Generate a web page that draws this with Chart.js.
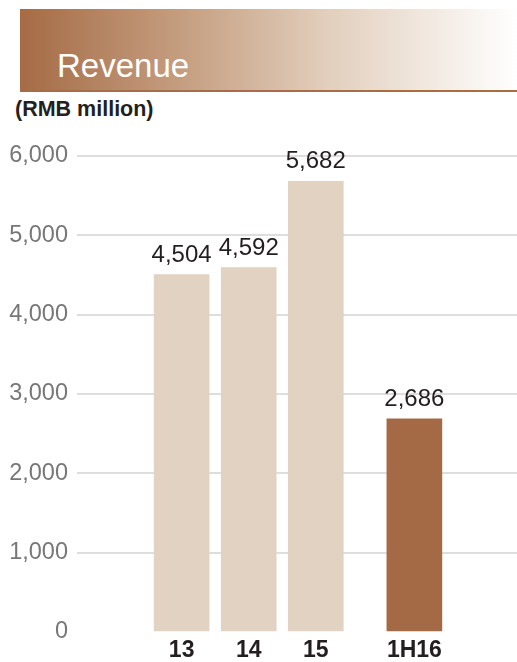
<!DOCTYPE html>
<html>
<head>
<meta charset="utf-8">
<script src="https://cdn.jsdelivr.net/npm/chart.js@4.4.0/dist/chart.umd.min.js"></script>
<style>
  body { margin: 0; background: #fff; font-family: "Liberation Sans", Arial, sans-serif; }
  #wrap { position: relative; width: 517px; height: 662px; overflow: hidden; }
  #head {
    position: absolute; left: 20px; top: 9px; width: 497px; height: 81px;
    background: linear-gradient(to right, #a56b45 0%, #c7a285 35%, #e2cfbd 62%, #ffffff 100%);
    border-bottom: 2px solid #a86c47;
  }
  #head span {
    position: absolute; left: 37px; top: 40px;
    color: #fff; font-size: 33px; line-height: 33px;
  }
  #unit {
    position: absolute; left: 15px; top: 97px;
    font-size: 21.5px; font-weight: bold; color: #231f20;
  }
  canvas { position: absolute; left: 0; top: 0; }
</style>
</head>
<body>
<div id="wrap">
  <div id="head"><span>Revenue</span></div>
  <div id="unit">(RMB million)</div>
  <canvas id="chartRevenue" width="517" height="662"></canvas>
</div>
<script>
var periodos = ["13", "14", "15", "1H16"];
var receita = [4504, 4592, 5682, 2686];
var eixoY = [0, 1000, 2000, 3000, 4000, 5000, 6000];

// o semestre fica afastado dos anos cheios
function posicao(i) {
    return i < 3 ? i : i + 0.47;
}

var corAno = '#e2d2c2';
var corSemestre = '#a36a45';

var rotulos = {
    id: 'rotulos',
    afterDatasetsDraw: function (chart) {
        var ctx = chart.ctx;
        var meta = chart.getDatasetMeta(0);
        ctx.save();
        ctx.font = '24px "Liberation Sans", Arial, sans-serif';
        ctx.fillStyle = '#231f20';
        ctx.textAlign = 'center';
        ctx.textBaseline = 'alphabetic';
        meta.data.forEach(function (barra, i) {
            ctx.fillText(receita[i].toLocaleString('en-US'), barra.x, barra.y - 13);
        });
        ctx.restore();
    }
};

var graficoReceita = document.getElementById('chartRevenue').getContext('2d');
var chart = new Chart(graficoReceita, {
    type: 'bar',
    data: {
        datasets: [
            {
                label: "Revenue",
                data: receita.map(function (v, i) { return { x: posicao(i), y: v }; }),
                backgroundColor: function (c) {
                    return c.dataIndex === periodos.length - 1 ? corSemestre : corAno;
                },
                barThickness: 55,
                borderWidth: 0
            }
        ]
    },
    options: {
        responsive: false,
        animation: false,
        layout: { padding: { top: 156, left: 0, right: 0, bottom: 0 } },
        plugins: {
            legend: { display: false },
            tooltip: { enabled: false }
        },
        scales: {
            x: {
                type: 'linear',
                offset: false,
                min: -1.56,
                max: 5.0,
                afterBuildTicks: function (s) {
                    s.ticks = periodos.map(function (p, i) { return { value: posicao(i) }; });
                },
                afterFit: function (s) { s.height = 30; },
                ticks: {
                    autoSkip: false,
                    maxRotation: 0,
                    padding: 5,
                    color: '#231f20',
                    font: { family: '"Liberation Sans", Arial, sans-serif', size: 23, weight: 'bold' },
                    callback: function (v) {
                        for (var i = 0; i < periodos.length; i++) {
                            if (posicao(i) === v) return periodos[i];
                        }
                        return '';
                    }
                },
                grid: { display: false, drawTicks: false },
                border: { display: false }
            },
            y: {
                min: eixoY[0],
                max: eixoY[eixoY.length - 1],
                afterBuildTicks: function (s) {
                    s.ticks = eixoY.map(function (v) { return { value: v }; });
                },
                afterFit: function (s) { s.width = 77; },
                ticks: {
                    padding: 9,
                    color: '#777777',
                    font: { family: '"Liberation Sans", Arial, sans-serif', size: 23.5 },
                    callback: function (v) { return v.toLocaleString('en-US'); }
                },
                grid: {
                    drawTicks: false,
                    lineWidth: 2,
                    color: function (c) { return c.tick && c.tick.value === 0 ? 'rgba(0,0,0,0)' : '#dedede'; }
                },
                border: { display: false }
            }
        }
    },
    plugins: [rotulos]
});
</script>
</body>
</html>
